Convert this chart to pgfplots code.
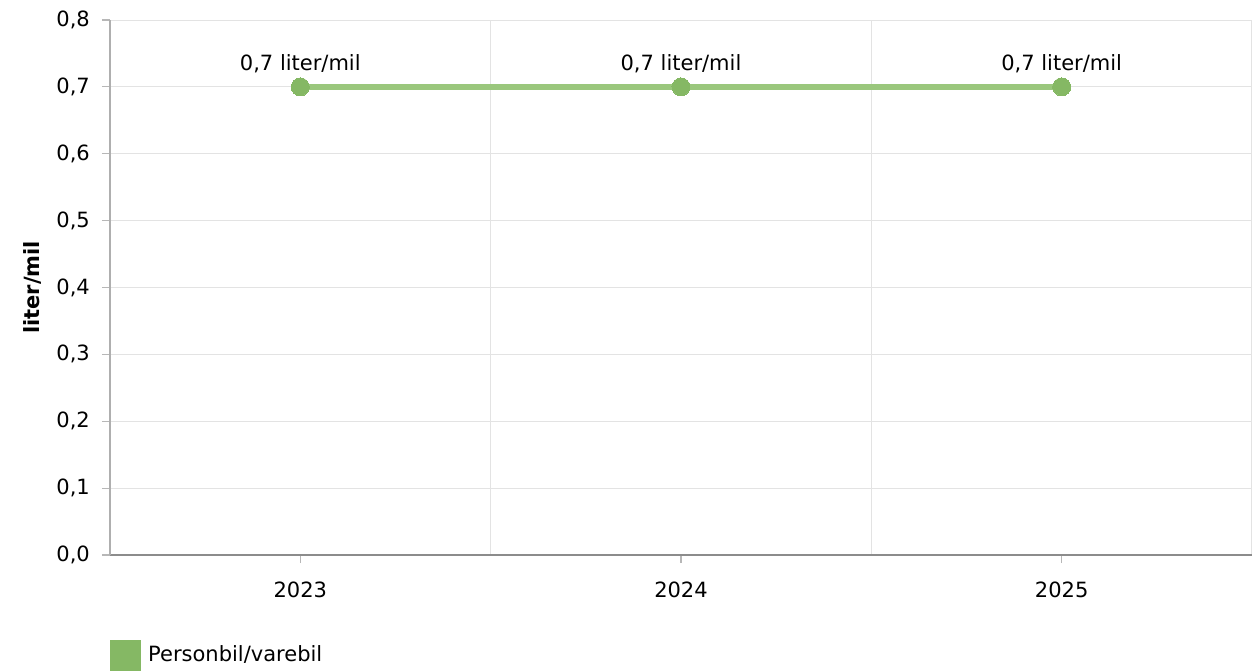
\documentclass[border=0pt]{standalone}
\usepackage{pgfplots}
\pgfplotsset{compat=1.18}
\usepackage{fontspec}
\setmainfont{DejaVu Sans}
\definecolor{linec}{HTML}{9AC77D}
\definecolor{markc}{HTML}{85B864}
\definecolor{gridc}{HTML}{E3E3E3}
\definecolor{axc}{HTML}{8C8C8C}
\begin{document}
\fontsize{21}{24}\selectfont
\begin{tikzpicture}
\begin{axis}[
  scale only axis,
  width=1142pt, height=535pt,
  xmin=-0.5, xmax=2.5,
  ymin=0, ymax=0.8,
  xtick={0,1,2},
  xticklabels={2023,2024,2025},
  minor xtick={0.5,1.5,2.5},
  ytick={0,0.1,...,0.8},
  axis x line=bottom, axis y line=left,
  axis line style={-, draw=axc, line width=1.2pt},
  y axis line style={draw=gridc!40!axc},
  tick align=outside,
  major tick length=8pt,
  minor tick length=0pt,
  tick style={draw=gridc!50!axc, line width=1.2pt},
  ymajorgrids, xminorgrids,
  major grid style={draw=gridc, line width=1pt},
  minor grid style={draw=gridc, line width=1pt},
  /pgf/number format/.cd, use comma, fixed, fixed zerofill, precision=1, assume math mode=true,
  /pgfplots/.cd,
  ticklabel style={font=\fontsize{21}{24}\selectfont, text=black},
  xticklabel style={yshift=-12pt},
  yticklabel style={xshift=-5pt},
  ylabel={\bfseries liter/mil},
  ylabel style={font=\fontsize{21}{24}\selectfont},
  every axis y label/.style={at={(axis description cs:-0.0683,0.5)}, rotate=90, anchor=center},
  clip=false,
  legend style={at={(axis description cs:0,-0.187)}, anchor=west, draw=none, fill=none, inner sep=0pt,
     font=\fontsize{21}{24}\selectfont, legend cell align=left,
     /tikz/every odd column/.append style={column sep=5pt}},
  legend image code/.code={\fill[markc] (0pt,-12.5pt) rectangle (25pt,12.5pt);},
]
\addplot[color=linec, line width=6pt, mark=*, mark size=9pt,
  mark options={solid, fill=markc, draw=markc, line width=0pt},
  nodes near coords={\pgfmathprintnumber[use comma,fixed,fixed zerofill,precision=1,assume math mode=true]{\pgfplotspointmeta}~liter/mil},
  every node near coord/.append style={anchor=south, yshift=7pt, text=black, font=\fontsize{21}{24}\selectfont}]
  coordinates {(0,0.7) (1,0.7) (2,0.7)};
\addlegendentry{Personbil/varebil}
\coordinate (sw) at (rel axis cs:0,0);
\end{axis}
\pgfresetboundingbox
\path[use as bounding box] ([xshift=-110pt,yshift=-115pt]sw) rectangle ([xshift=1143pt,yshift=555pt]sw);
\end{tikzpicture}
\end{document}
